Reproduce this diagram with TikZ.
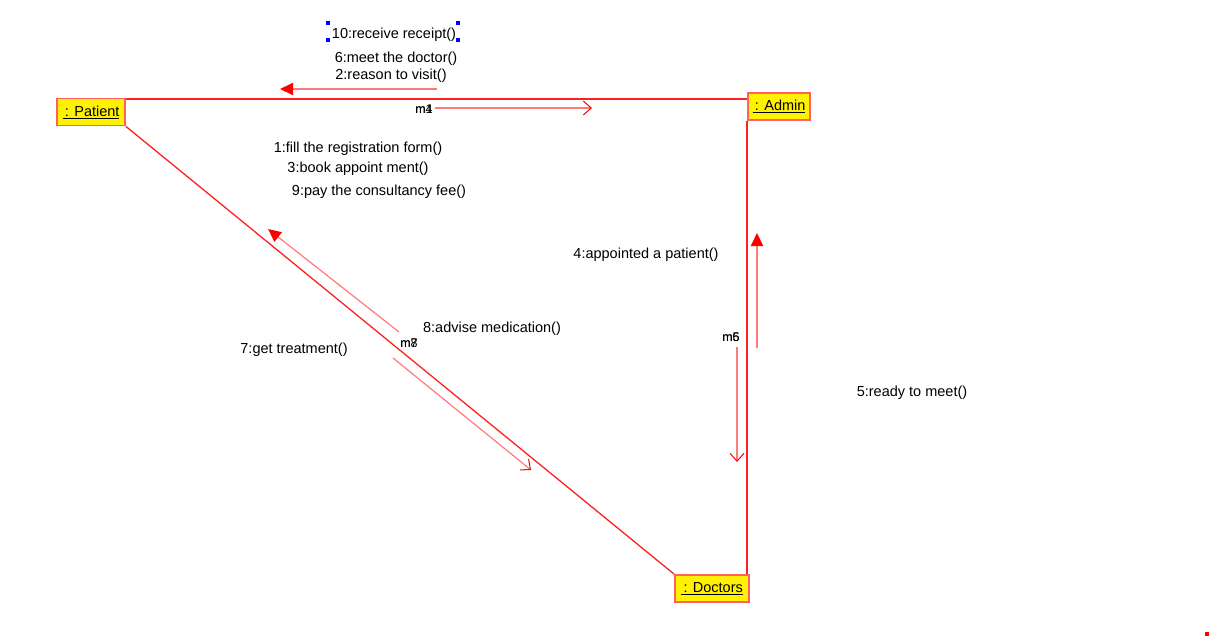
\documentclass[tikz,border=0pt]{standalone}
\usepackage{fontspec}
\setmainfont{Liberation Sans}
\usetikzlibrary{arrows.meta}
\definecolor{linkred}{HTML}{FF2020}
\definecolor{msgred}{HTML}{FF7A7A}
\definecolor{boxedge}{HTML}{FF6060}
\tikzset{
  obj/.style={draw=boxedge, line width=1.8pt, fill=yellow, inner sep=2pt, minimum height=27pt, font=\fontsize{14.5}{16}\selectfont},
  link/.style={draw=linkred, line width=2pt},
  dlink/.style={draw=linkred, line width=1.3pt},
  msgfill/.style={draw=msgred, line width=2pt, -{Triangle[length=13pt,width=12pt,fill=red,color=red]}},
  msgopen/.style={draw=msgred, line width=1.6pt, -{Straight Barb[length=8pt,width=14pt,color=red,line width=1pt]}},
  dmsgfill/.style={draw=msgred, line width=1.2pt, -{Triangle[length=13pt,width=12pt,fill=red,color=red]}},
  dmsgopen/.style={draw=msgred, line width=1.2pt, -{Straight Barb[length=8pt,width=14pt,color=red,line width=1pt]}},
  lbl/.style={inner sep=0pt, font=\fontsize{14.5}{16}\selectfont, yshift=-2pt},
  mlbl/.style={inner sep=0pt, font=\fontsize{12.5}{14}\selectfont, yshift=-1pt},
  handle/.style={fill=blue, draw=none, minimum size=4pt, inner sep=0pt}
}
\begin{document}
\begin{tikzpicture}[x=1pt,y=-1pt]
\useasboundingbox (0,0) rectangle (1212,643);
% objects
\node[obj, minimum width=68pt] (P) at (91,112) {\underline{\,: Patient}};
\node[obj, minimum width=62pt] (A) at (779,106.5) {\underline{\,: Admin}};
\node[obj, minimum width=74pt] (D) at (712,588.5) {\underline{\,: Doctors}};
% links
\draw[link] (P.north east) ++(0,1) coordinate (pa1) -- (pa1 -| A.west);
\draw[link] (A.south west) -- (A.south west |- D.north);
\draw[dlink] (P.south east) -- (D.north west);
% messages Patient -- Admin
\coordinate (m1s) at (437,89); \coordinate (m1e) at (280,89);
\draw[msgfill] (m1s) -- (m1e);
\coordinate (m2s) at (435,108); \coordinate (m2e) at (592,108);
\draw[msgopen] (m2s) -- (m2e);
\node[mlbl] (mA) at (424,108.5) {m1};
\node[mlbl] (mB) at (424,108.5) {m4};
% messages Patient -- Doctors
\coordinate (m3s) at (399,332); \coordinate (m3e) at (268,229);
\draw[dmsgfill] (m3s) -- (m3e);
\coordinate (m4s) at (393,358); \coordinate (m4e) at (531,470);
\draw[dmsgopen] (m4s) -- (m4e);
\node[mlbl] (mC) at (409,342.5) {m8};
\node[mlbl] (mD) at (409,342.5) {m7};
% messages Admin -- Doctors
\coordinate (m5s) at (757,348); \coordinate (m5e) at (757,233);
\draw[msgfill] (m5s) -- (m5e);
\coordinate (m6s) at (737,347); \coordinate (m6e) at (737,462);
\draw[msgopen] (m6s) -- (m6e);
\node[mlbl] (mE) at (731,336.5) {m5};
\node[mlbl] (mF) at (731,336.5) {m6};
% labels
\node[lbl] (t10) at (394,33) {10:receive receipt()};
\node[handle] (h1) at (328,23) {};
\node[handle] (h2) at (458,23) {};
\node[handle] (h3) at (328,40) {};
\node[handle] (h4) at (458,40) {};
\node[lbl] (t6) at (396,57) {6:meet the doctor()};
\node[lbl] (t2) at (391,74) {2:reason to visit()};
\node[lbl] (t1) at (358,147) {1:fill the registration form()};
\node[lbl] (t3) at (358,167) {3:book appoint ment()};
\node[lbl] (t9) at (379,190) {9:pay the consultancy fee()};
\node[lbl] (t4) at (646,253) {4:appointed a patient()};
\node[lbl] (t8) at (492,327) {8:advise medication()};
\node[lbl] (t7) at (294,348) {7:get treatment()};
\node[lbl] (t5) at (912,391) {5:ready to meet()};
% red dot
\node[fill=red, draw=none, minimum size=4pt, inner sep=0pt] (dot) at (1207,634) {};
\end{tikzpicture}
\end{document}
